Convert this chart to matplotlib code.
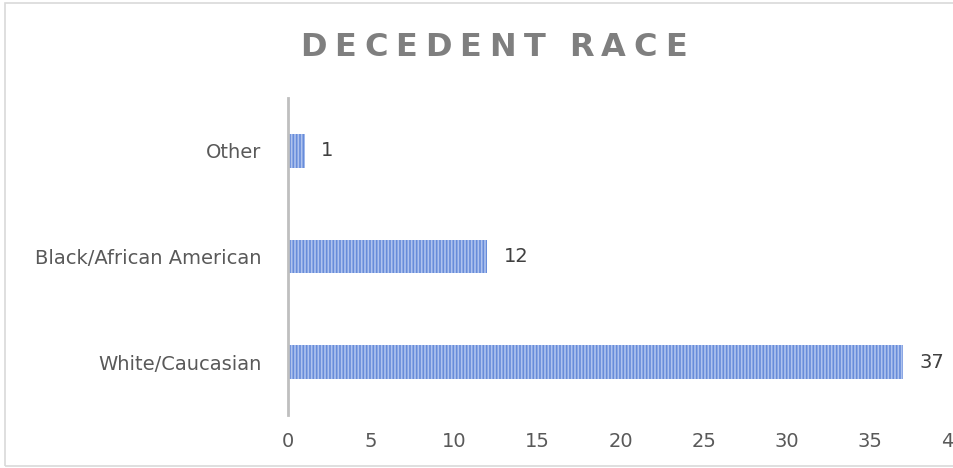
import matplotlib.pyplot as plt
from matplotlib.patches import Rectangle

# Data
categories = ["White/Caucasian", "Black/African American", "Other"]
counts = [37, 12, 1]
x_ticks = [0, 5, 10, 15, 20, 25, 30, 35, 40]
title = "DECEDENT RACE"

plt.rcParams['font.family'] = ['DejaVu Sans']
plt.rcParams['hatch.linewidth'] = 1.2

W, H = 954, 468
fig = plt.figure(figsize=(W / 100, H / 100), dpi=100)
ax = fig.add_axes([288 / W, 53 / H, 665 / W, 317 / H])

# Chart border
fig.patches.append(Rectangle((5 / W, 2 / H), 1.0, 463 / H,
                             transform=fig.transFigure, fill=False,
                             edgecolor='#d9d9d9', linewidth=1.2))

ypos = range(len(categories))
ax.barh(ypos, counts, height=0.32, color='#678cda', edgecolor='#afc3ee',
        linewidth=0, hatch='|||||')

for y, v in zip(ypos, counts):
    ax.text(v + 1.0, y, str(v), va='center', ha='left', fontsize=14,
            color='#404040')

ax.set_xlim(0, 40)
ax.set_ylim(-0.5, 2.5)
ax.set_yticks(list(ypos))
ax.set_yticklabels(categories)
ax.set_xticks(x_ticks)
ax.tick_params(axis='both', length=0, labelsize=14, labelcolor='#595959')
ax.tick_params(axis='x', pad=12)
ax.tick_params(axis='y', pad=19)

for s in ['top', 'right', 'bottom']:
    ax.spines[s].set_visible(False)
ax.spines['left'].set_color('#bfbfbf')
ax.spines['left'].set_linewidth(2)

# Letter-spaced title, drawn letter by letter
renderer = fig.canvas.get_renderer()
title_kw = dict(fontsize=23, fontweight='bold', family='DejaVu Sans',
                color='#7f7f7f', va='center', ha='left')
left, right, yc = 300, 687, 1 - 47 / H
widths = []
for ch in title:
    t = fig.text(0, 0, ch if ch != ' ' else 'I', **title_kw)
    w = t.get_window_extent(renderer).width
    widths.append(w if ch != ' ' else w * 0.6)
    t.remove()
gap = (right - left - sum(widths)) / (len(title) - 1)
x = left
for ch, w in zip(title, widths):
    if ch != ' ':
        fig.text(x / W, yc, ch, **title_kw)
    x += w + gap

fig.savefig("out.png", dpi=100)
